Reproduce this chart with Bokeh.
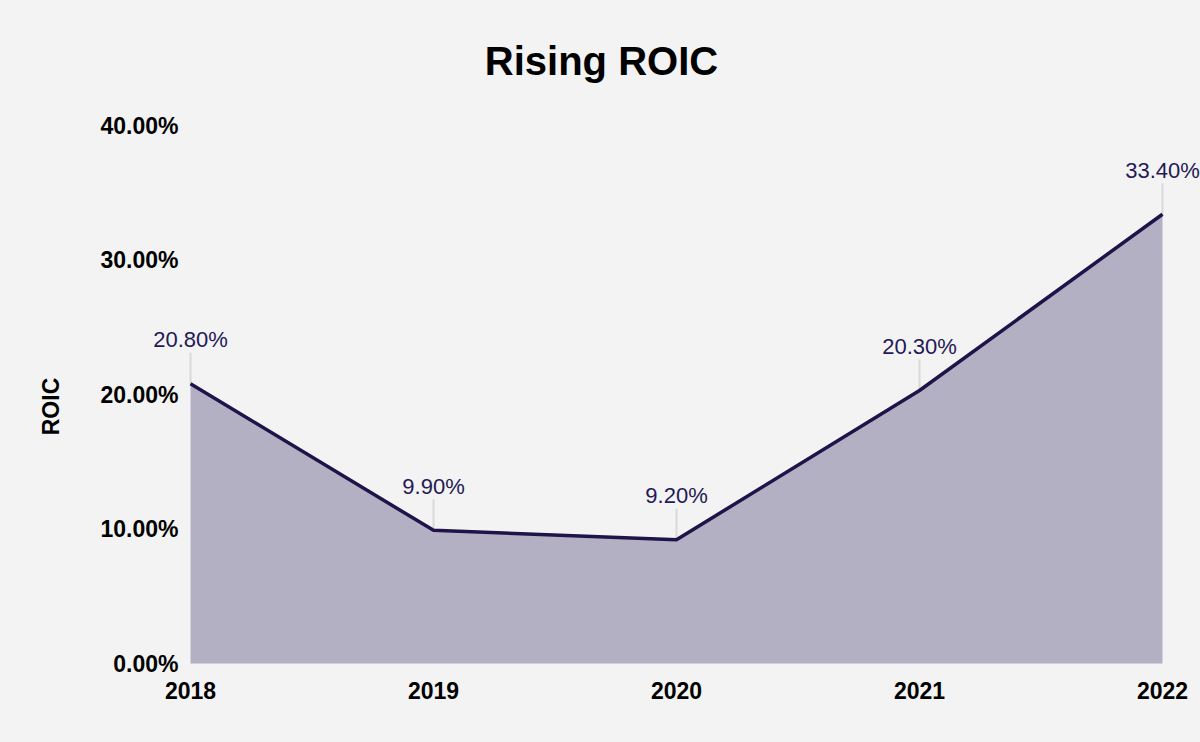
import math
from bokeh.plotting import figure
from bokeh.models import ColumnDataSource, Range1d
from bokeh.core.properties import value
from bokeh.embed import file_html
from bokeh.resources import INLINE

# ---- data ----
years = [2018, 2019, 2020, 2021, 2022]
roic = [20.8, 9.9, 9.2, 20.3, 33.4]
point_labels = ["20.80%", "9.90%", "9.20%", "20.30%", "33.40%"]
y_ticks = [0, 10, 20, 30, 40]
y_tick_labels = ["%.2f%%" % t for t in y_ticks]
x_tick_labels = [str(y) for y in years]
title_text = "Rising ROIC"
y_axis_title = "ROIC"

BG = "#f3f3f3"
LINE = "#1f1349"
FILL = "#b4b0c3"
TEXT = "#241a55"
LEADER = "#d9d9d9"
FONT = "Liberation Sans"

# ---- layout (pixels inside the figure) ----
W, H = 1192, 726
PLOT_L, PLOT_R = 182, 1154        # pixel x of first / last year
PLOT_T, PLOT_B = 117, 655         # pixel y of top / bottom tick
px_per_x = (PLOT_R - PLOT_L) / (years[-1] - years[0])
px_per_y = (PLOT_B - PLOT_T) / (y_ticks[-1] - y_ticks[0])

x_range = Range1d(years[0] - PLOT_L / px_per_x, years[-1] + (W - PLOT_R) / px_per_x)
y_range = Range1d(y_ticks[0] - (H - PLOT_B) / px_per_y, y_ticks[-1] + PLOT_T / px_per_y)

p = figure(width=W, height=H, output_backend="svg", toolbar_location=None, title=None,
           x_range=x_range, y_range=y_range, x_axis_location=None, y_axis_location=None,
           min_border=0, min_border_left=0, min_border_right=0, min_border_top=0, min_border_bottom=0,
           background_fill_color=BG, border_fill_color=BG, outline_line_color=None)
p.grid.visible = False

src = ColumnDataSource(dict(x=years, y=roic, label=point_labels))

# area + leader lines + line
p.varea(x="x", y1=0, y2="y", source=src, fill_color=FILL)
p.ray(x="x", y="y", length=31, length_units="screen", angle=math.pi / 2,
      source=src, line_color=LEADER, line_width=2)
p.line(x="x", y="y", source=src, line_color=LINE, line_width=3.5)

# data labels
p.text(x="x", y="y", text="label", source=src, text_align="center",
       text_baseline="alphabetic", y_offset=-44, text_font=value(FONT),
       text_font_size=value("22px"), text_color=TEXT)

# y tick labels
p.text(x=[years[0]] * len(y_ticks), y=y_ticks, text=y_tick_labels,
       text_align="right", text_baseline="alphabetic", x_offset=-12, y_offset=0,
       text_font=value(FONT), text_font_size=value("23px"),
       text_font_style=value("bold"), text_color="#000000")

# x tick labels
p.text(x=years, y=[y_ticks[0]] * len(years), text=x_tick_labels,
       text_align="center", text_baseline="alphabetic", y_offset=27,
       text_font=value(FONT), text_font_size=value("23px"),
       text_font_style=value("bold"), text_color="#000000")

# y axis title
p.text(x=[years[0]], y=[y_ticks[2]], text=[y_axis_title], angle=math.pi / 2,
       text_align="center", text_baseline="alphabetic", x_offset=-140, y_offset=12,
       text_font=value(FONT), text_font_size=value("23px"),
       text_font_style=value("bold"), text_color="#000000")

# chart title
p.text(x=[years[0]], y=[y_ticks[-1]], text=[title_text],
       text_align="center", text_baseline="alphabetic", x_offset=411, y_offset=-65,
       text_font=value(FONT), text_font_size=value("40px"),
       text_font_style=value("bold"), text_color="#000000")

html = file_html(p, INLINE)
html = html.replace("</head>", "<style>html,body{background:#f3f3f3;margin:0;overflow:hidden;}body{margin:8px 0 8px 8px;}</style></head>", 1)
open("out.html", "w").write(html)
